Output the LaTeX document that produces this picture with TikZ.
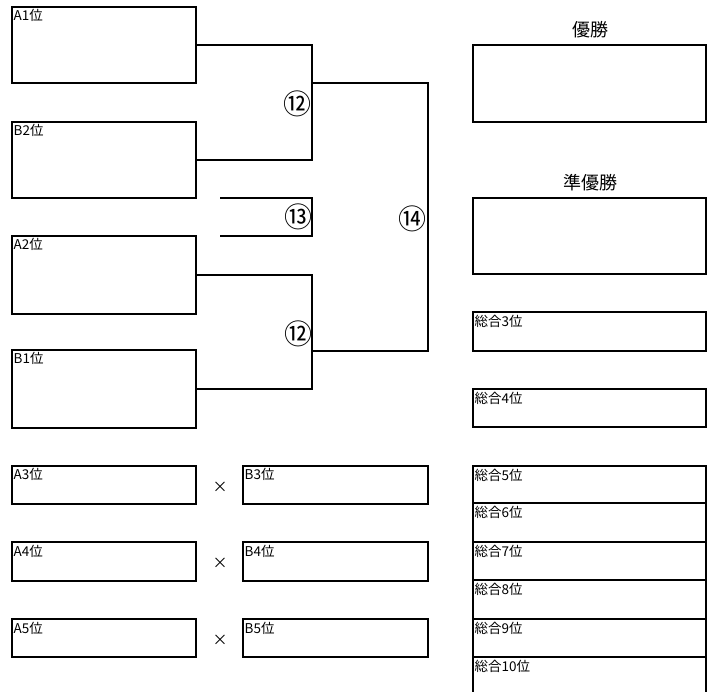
\documentclass[tikz,border=0pt]{standalone}
\usepackage{fontspec}
\setmainfont{Noto Sans CJK JP}
\begin{document}
\begin{tikzpicture}[x=1pt,y=-1pt,
  box/.style={draw, line width=1.6pt, inner sep=0pt, outer sep=0pt, anchor=north west, minimum width=184pt},
  wide/.style={box, minimum width=233pt},
  bigh/.style={minimum height=76pt},
  smallh/.style={minimum height=38pt},
  conn/.style={line width=1.6pt},
  lbl/.style={anchor=north west, inner xsep=1.5pt, inner ysep=2.5pt, font=\fontsize{13.5}{14}\selectfont},
  title/.style={font=\fontsize{18}{19}\selectfont, inner sep=0pt},
  circ/.style={font=\fontsize{28}{29}\selectfont, inner sep=0pt},
  vs/.style={font=\fontsize{15}{15}\selectfont, inner sep=0pt}]
\useasboundingbox (0,0) rectangle (707,692);
\clip (0,0) rectangle (707,692);
% left bracket boxes
\node[box, bigh] (a1) at (12,7) {};
\node[box, bigh] (b2) at (12,122) {};
\node[box, minimum height=78pt] (a2) at (12,236) {};
\node[box, minimum height=78pt] (b1) at (12,350) {};
\node[lbl] at (a1.north west) {A1位};
\node[lbl] at (b2.north west) {B2位};
\node[lbl] at (a2.north west) {A2位};
\node[lbl] at (b1.north west) {B1位};
% bottom pairs
\node[box, smallh] (a3) at (12,466) {};
\node[box, smallh, minimum width=185pt] (b3) at (243,466) {};
\node[box, minimum height=39pt] (a4) at (12,542) {};
\node[box, minimum height=39pt, minimum width=185pt] (b4) at (243,542) {};
\node[box, smallh] (a5) at (12,619) {};
\node[box, smallh, minimum width=185pt] (b5) at (243,619) {};
\node[lbl] at (a3.north west) {A3位};
\node[lbl] at (b3.north west) {B3位};
\node[lbl] at (a4.north west) {A4位};
\node[lbl] at (b4.north west) {B4位};
\node[lbl] at (a5.north west) {A5位};
\node[lbl] at (b5.north west) {B5位};
\node[vs] (x3) at (220,487) {×};
\node[vs] (x4) at (220,563) {×};
\node[vs] (x5) at (220,640) {×};
% bracket connectors
\coordinate (m12a) at (312,103);
\coordinate (m12b) at (312,330);
\coordinate (w12a) at (312,83);
\coordinate (w12b) at (312,351);
\coordinate (m14) at (428,219);
\coordinate (s13a) at (220,198);
\coordinate (s13b) at (220,236);
\coordinate (m13) at (312,217);
\draw[conn] (a1.east) -| (m12a) |- (b2.east);
\draw[conn] (a2.east) -| (m12b) |- (b1.east);
\draw[conn] (w12a) -| (m14) |- (w12b);
\draw[conn] (s13a) -| (m13) |- (s13b);
\node[circ] (c12a) at (297,104) {⑫};
\node[circ] (c13) at (298,217) {⑬};
\node[circ] (c14) at (412,219) {⑭};
\node[circ] (c12b) at (298,334) {⑫};
% right column
\node[title] (t1) at (590,30) {優勝};
\node[wide, minimum height=77pt] (r1) at (473,45) {};
\node[title] (t2) at (590,183) {準優勝};
\node[wide, bigh] (r2) at (473,198) {};
\node[wide, minimum height=39pt] (r3) at (473,312) {};
\node[wide, smallh] (r4) at (473,389) {};
\node[wide, minimum height=37pt] (r5) at (473,466) {};
\node[wide, minimum height=39pt] (r6) at (473,503) {};
\node[wide, smallh] (r7) at (473,542) {};
\node[wide, minimum height=39pt] (r8) at (473,580) {};
\node[wide, smallh] (r9) at (473,619) {};
\node[wide, minimum height=60pt] (r10) at (473,657) {};
\node[lbl] at (r3.north west) {総合3位};
\node[lbl] at (r4.north west) {総合4位};
\node[lbl] at (r5.north west) {総合5位};
\node[lbl] at (r6.north west) {総合6位};
\node[lbl] at (r7.north west) {総合7位};
\node[lbl] at (r8.north west) {総合8位};
\node[lbl] at (r9.north west) {総合9位};
\node[lbl] at (r10.north west) {総合10位};
\end{tikzpicture}
\end{document}
